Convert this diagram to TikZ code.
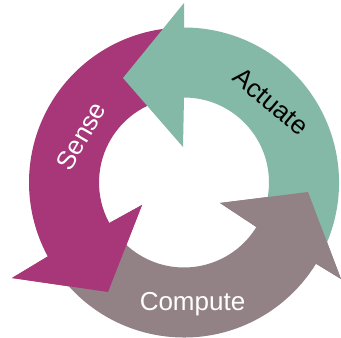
\documentclass[tikz,border=0pt]{standalone}
\usepackage{fontspec}
\setmainfont{Liberation Sans}
\usetikzlibrary{calc}
\definecolor{senseC}{HTML}{A8377A}
\definecolor{actC}{HTML}{84B8A7}
\definecolor{compC}{HTML}{928286}
\begin{document}
\begin{tikzpicture}[x=1pt,y=1pt,
  lbl/.style={font=\fontsize{26}{30}\selectfont, inner sep=0pt}]
\fill[white] (0,0) rectangle (341,338);
\useasboundingbox (0,0) rectangle (341,338);
\coordinate (C) at (184,155.5);
% arrow head points
\coordinate (sOB) at (12,60);
\coordinate (sT) at (108,46);
\coordinate (sIB) at (142,133);
\coordinate (cOB) at (341,59);
\coordinate (cT) at (308,146);
\coordinate (cIB) at (220,135);
\coordinate (aOB) at (184,335);
\coordinate (aT) at (123,260);
\coordinate (aIB) at (183,191);
% full arrows
\fill[senseC] ($(C)+(95:155)$) arc[start angle=95,end angle=208.5,radius=155]
  -- (sOB) -- (sT) -- (sIB) -- ($(C)+(208.5:85)$)
  arc[start angle=208.5,end angle=95,radius=85] -- cycle;
\fill[compC] ($(C)+(213:155)$) arc[start angle=213,end angle=328.4,radius=155]
  -- (cOB) -- (cT) -- (cIB) -- ($(C)+(328.4:85)$)
  arc[start angle=328.4,end angle=213,radius=85] -- cycle;
\fill[actC] ($(C)+(-27:155)$) arc[start angle=-27,end angle=90,radius=155]
  -- (aOB) -- (aT) -- (aIB) -- ($(C)+(90:85)$)
  arc[start angle=90,end angle=-27,radius=85] -- cycle;
% heads on top of the following tails
\fill[senseC] ($(C)+(208.5:155)$) -- (sOB) -- (sT) -- (sIB) -- ($(C)+(208.5:85)$) -- cycle;
\fill[compC] ($(C)+(328.4:155)$) -- (cOB) -- (cT) -- (cIB) -- ($(C)+(328.4:85)$) -- cycle;
% labels
\node[lbl, white, rotate=60] (sense) at (81,202) {Sense};
\node[lbl, black, rotate=-40] (actuate) at (271,236.5) {Actuate};
\node[lbl, white, anchor=base] (compute) at (192.5,27) {Compute};
\end{tikzpicture}
\end{document}
